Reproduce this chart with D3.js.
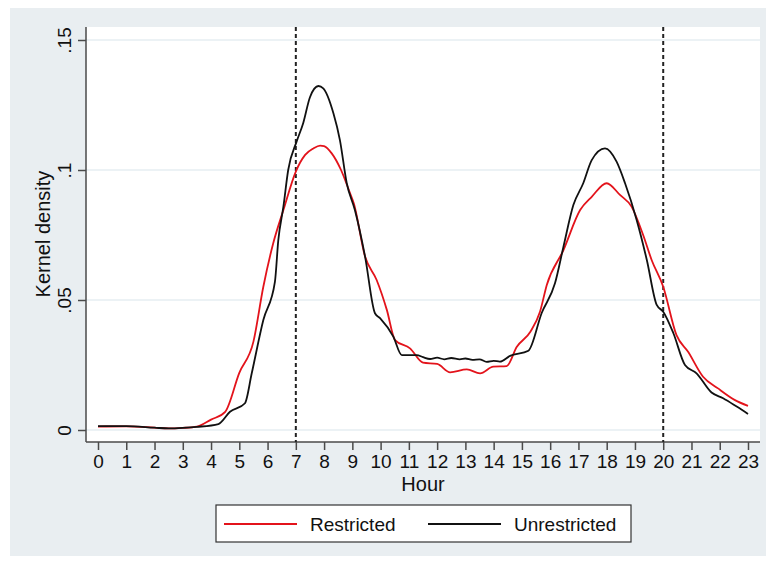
<!DOCTYPE html>
<meta charset="utf-8">
<script src="https://d3js.org/d3.v7.min.js"></script>
<body style="margin:0;background:#fff">
<svg id="chart" width="766" height="564"></svg>
<script>
    // hours and density values
    const restrictedHours = [0, 1, 2, 2.5, 3, 3.5, 4, 4.5, 5, 5.5, 5.85, 6.2, 6.56, 7, 7.33, 7.62, 7.86, 8, 8.27, 8.6, 8.92, 9.05, 9.45, 9.86, 10.22, 10.51, 11.04, 11.5, 12, 12.46, 13.05, 13.52, 13.99, 14.46, 14.82, 15.3, 15.64, 15.88, 16.47, 17.06, 17.47, 18, 18.47, 18.88, 19.29, 19.59, 20, 20.47, 20.88, 21.41, 21.94, 22.54, 23];
    const restricted = [0.0013, 0.0014, 0.0009, 0.0006, 0.0008, 0.0013, 0.004, 0.007, 0.022, 0.034, 0.0551, 0.0718, 0.0846, 0.0994, 0.1058, 0.1083, 0.1094, 0.1092, 0.1064, 0.1, 0.091, 0.0872, 0.0667, 0.0577, 0.0462, 0.0346, 0.0314, 0.0259, 0.0254, 0.0222, 0.0233, 0.0218, 0.0244, 0.0246, 0.032, 0.0378, 0.0455, 0.0558, 0.0692, 0.0846, 0.0897, 0.0949, 0.0904, 0.0859, 0.075, 0.0654, 0.0551, 0.0365, 0.0301, 0.0205, 0.016, 0.0115, 0.0093];

    const unrestrictedHours = [0, 1, 2, 2.5, 3, 3.5, 4.26, 4.67, 5.2, 5.44, 5.85, 6.26, 6.38, 6.56, 6.73, 7.03, 7.26, 7.5, 7.8, 7.97, 8.33, 8.56, 8.8, 9.09, 9.45, 9.8, 9.98, 10.45, 10.75, 11.28, 11.5, 11.75, 12, 12.25, 12.5, 12.8, 13, 13.25, 13.5, 13.75, 14, 14.22, 14.58, 15.23, 15.7, 16.17, 16.47, 16.82, 17.17, 17.47, 17.94, 18.35, 18.65, 19.06, 19.42, 19.77, 20, 20.36, 20.77, 21.18, 21.71, 22.12, 22.6, 23];
    const unrestricted = [0.0015, 0.0015, 0.0009, 0.0006, 0.0008, 0.0012, 0.0023, 0.007, 0.0103, 0.0218, 0.0423, 0.057, 0.073, 0.0859, 0.1, 0.111, 0.118, 0.128, 0.1323, 0.1314, 0.1218, 0.1115, 0.095, 0.0846, 0.0667, 0.0449, 0.043, 0.0359, 0.0288, 0.0288, 0.028, 0.0273, 0.0278, 0.0272, 0.0277, 0.0272, 0.0275, 0.027, 0.0272, 0.0262, 0.0266, 0.0263, 0.0285, 0.0305, 0.045, 0.0564, 0.0705, 0.0865, 0.0949, 0.1038, 0.1083, 0.1032, 0.0949, 0.0808, 0.0654, 0.0481, 0.0455, 0.0372, 0.025, 0.0218, 0.0144, 0.0122, 0.009, 0.0062];

    const xTicks = d3.range(0, 24);
    const yTicks = [0, 0.05, 0.1, 0.15];
    const yTickLabels = ["0", ".05", ".1", ".15"];
    const markerHours = [7, 20];
    const seriesNames = ["Restricted", "Unrestricted"];
    const seriesColors = ["#e3131b", "#111111"];

    const font = "'Liberation Sans', Arial, Helvetica, sans-serif";
    const fontSize = 19;
    const titleSize = 20;
    const svg = d3.select("#chart");

    // outer panel
    svg.append("rect").attr("x", 10).attr("y", 8).attr("width", 756).attr("height", 548).attr("fill", "#e9eef1");

    const plot = {left: 86, right: 760, top: 27, bottom: 442};
    svg.append("rect").attr("x", plot.left).attr("y", plot.top)
        .attr("width", plot.right - plot.left).attr("height", plot.bottom - plot.top).attr("fill", "#fff");

    const x = d3.scaleLinear().domain([0, 23]).range([98, 748]);
    const y = d3.scaleLinear().domain([0, 0.15]).range([430, 40]);

    // grid
    svg.append("g").selectAll("line").data(yTicks).join("line")
        .attr("x1", plot.left).attr("x2", plot.right)
        .attr("y1", d => y(d)).attr("y2", d => y(d))
        .attr("stroke", "#e6eef2").attr("stroke-width", 1.5);

    // axes
    const yAxis = svg.append("g").attr("transform", `translate(${plot.left},0)`)
        .call(d3.axisLeft(y).tickValues(yTicks).tickSize(8).tickFormat((d, i) => yTickLabels[i]));
    yAxis.select(".domain").attr("d", `M0,${plot.top}V${plot.bottom}`);
    yAxis.selectAll(".tick text").attr("transform", "rotate(-90)")
        .attr("x", 0).attr("y", -15).attr("dy", 0).attr("text-anchor", "middle");

    const xAxis = svg.append("g").attr("transform", `translate(0,${plot.bottom})`)
        .call(d3.axisBottom(x).tickValues(xTicks).tickSize(8).tickPadding(5).tickFormat(d3.format("d")));
    xAxis.select(".domain").attr("d", `M${plot.left},0H${plot.right}`);

    svg.selectAll(".domain").attr("stroke", "#4a4a4a").attr("stroke-width", 1.5);
    svg.selectAll(".tick line").attr("stroke", "#4a4a4a").attr("stroke-width", 1.5);
    svg.selectAll(".tick text").attr("font-family", font).attr("font-size", fontSize).attr("fill", "#111");

    // dashed reference lines
    svg.append("g").selectAll("line").data(markerHours).join("line")
        .attr("x1", d => x(d)).attr("x2", d => x(d))
        .attr("y1", plot.top).attr("y2", plot.bottom)
        .attr("stroke", "#222").attr("stroke-width", 2).attr("stroke-dasharray", "4,3");

    // curves
    const line = d3.line().x(d => x(d[0])).y(d => y(d[1])).curve(d3.curveMonotoneX);
    const seriesData = [
        d3.zip(restrictedHours, restricted),
        d3.zip(unrestrictedHours, unrestricted)
    ];
    svg.append("g").selectAll("path").data(seriesData).join("path")
        .attr("d", line).attr("fill", "none")
        .attr("stroke", (d, i) => seriesColors[i]).attr("stroke-width", 1.8)
        .attr("stroke-linejoin", "round");

    // axis titles
    svg.append("text").attr("x", 423).attr("y", 491).attr("text-anchor", "middle")
        .attr("font-family", font).attr("font-size", titleSize).attr("fill", "#111").text("Hour");
    svg.append("text").attr("transform", "translate(50,234) rotate(-90)").attr("text-anchor", "middle")
        .attr("font-family", font).attr("font-size", titleSize).attr("fill", "#111").text("Kernel density");

    // legend
    const legend = svg.append("g");
    legend.append("rect").attr("x", 216).attr("y", 505).attr("width", 415).attr("height", 37)
        .attr("fill", "#fff").attr("stroke", "#333").attr("stroke-width", 1.2);
    const legendX = [224, 428];
    legend.selectAll("line").data(seriesNames).join("line")
        .attr("x1", (d, i) => legendX[i]).attr("x2", (d, i) => legendX[i] + 73)
        .attr("y1", 524).attr("y2", 524)
        .attr("stroke", (d, i) => seriesColors[i]).attr("stroke-width", 1.8);
    legend.selectAll("text").data(seriesNames).join("text")
        .attr("x", (d, i) => legendX[i] + 86).attr("y", 531)
        .attr("font-family", font).attr("font-size", fontSize).attr("fill", "#111").text(d => d);
</script>
</body>
